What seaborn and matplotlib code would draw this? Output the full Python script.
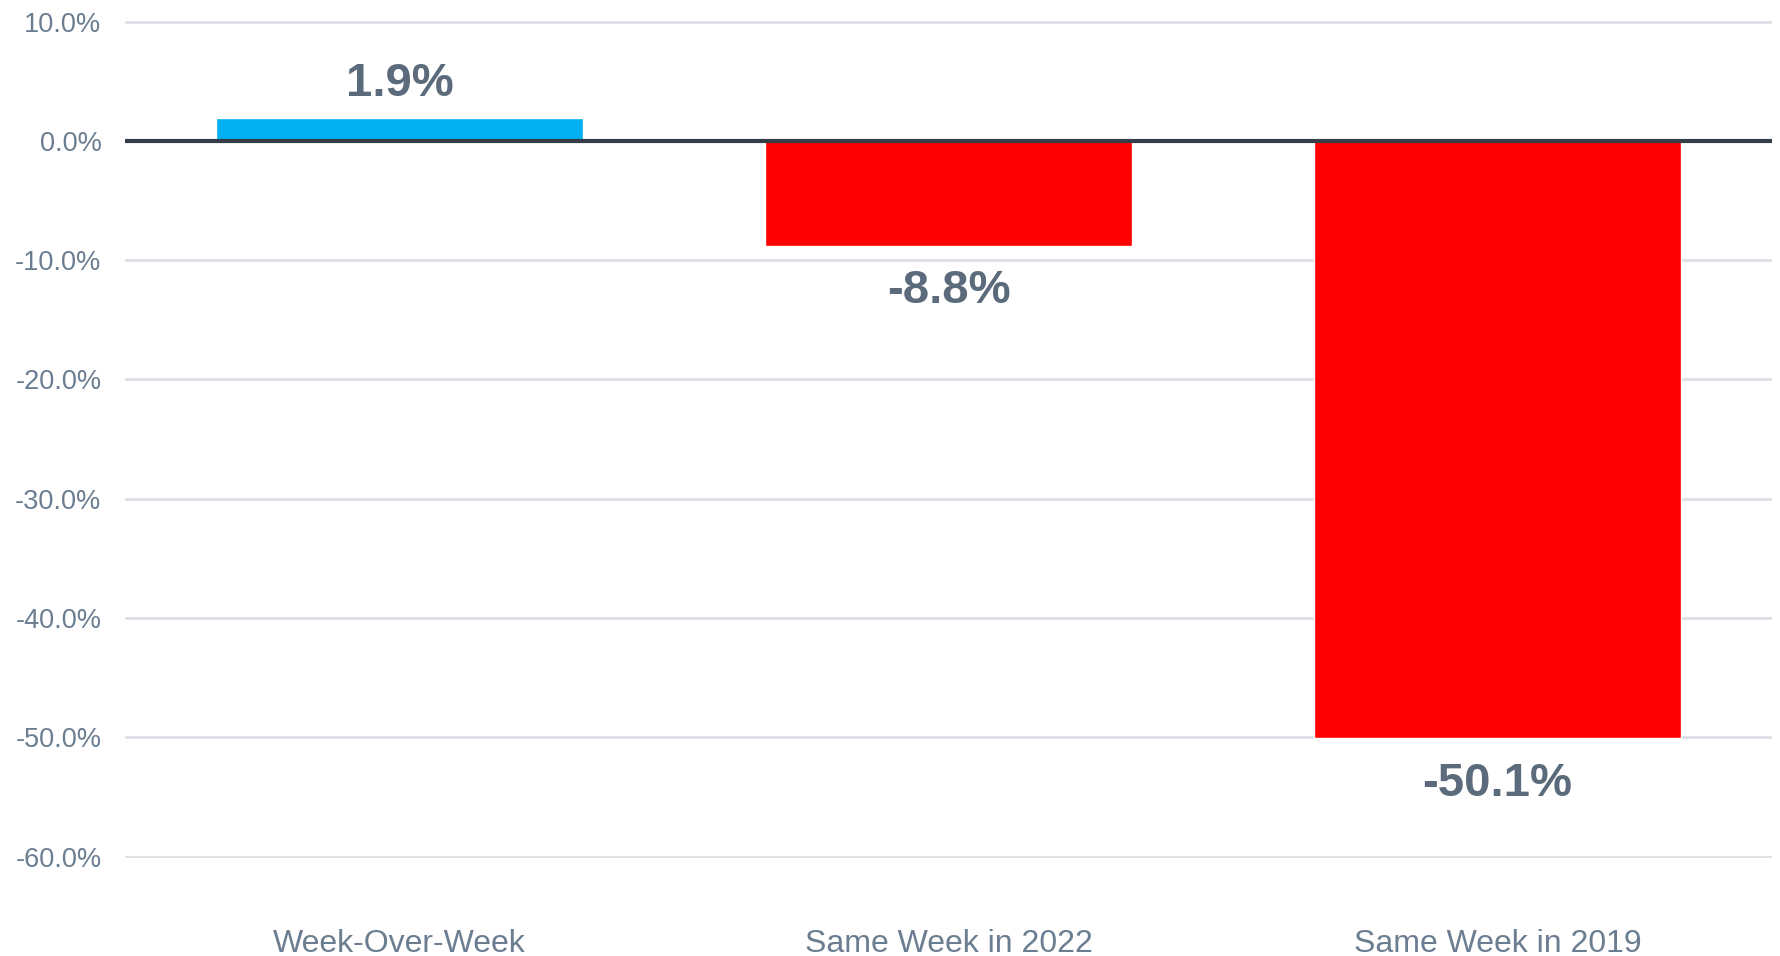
import matplotlib
matplotlib.use("Agg")
import matplotlib.pyplot as plt
from matplotlib.ticker import FuncFormatter, FixedLocator
import seaborn as sns
import pandas as pd

# Data
categories = ["Week-Over-Week", "Same Week in 2022", "Same Week in 2019"]
changes = [1.9, -8.8, -50.1]
y_ticks = [10, 0, -10, -20, -30, -40, -50, -60]

POS_COLOR = "#00B0F0"
NEG_COLOR = "#FF0000"
TICK_COLOR = "#6B7D90"
LABEL_COLOR = "#5B6B7B"

sns.set_theme(style="white")
plt.rcParams["font.family"] = ["Liberation Sans", "DejaVu Sans"]

df = pd.DataFrame({"category": categories, "change": changes})
palette = {c: (POS_COLOR if v >= 0 else NEG_COLOR) for c, v in zip(categories, changes)}

fig = plt.figure(figsize=(17.81, 9.56), dpi=100)
# small margin above/below the outer gridlines so they are not clipped
ax = fig.add_axes([0.0702, 0.1022, 0.9248, 0.8771])

sns.barplot(data=df, x="category", y="change", hue="category", palette=palette,
            order=categories, width=0.667, saturation=1, legend=False, ax=ax)

ax.set_xlim(-0.5, 2.5)
ax.set_ylim(min(y_ticks) - 0.15, max(y_ticks) + 0.15)
ax.yaxis.set_major_locator(FixedLocator(y_ticks))
ax.yaxis.set_major_formatter(FuncFormatter(lambda v, _: f"{v:.1f}%"))

ax.grid(axis="y", color="#DCE0E5", linewidth=2, zorder=0)
ax.set_axisbelow(True)
ax.axhline(0, color="#353E48", linewidth=3, zorder=3)

for s in ax.spines.values():
    s.set_visible(False)

ax.set_xlabel("")
ax.set_ylabel("")
ax.tick_params(axis="y", length=0, pad=17, labelsize=19.5, labelcolor=TICK_COLOR)
ax.tick_params(axis="x", length=0, pad=51, labelsize=23, labelcolor=TICK_COLOR)

for i, v in enumerate(changes):
    offset = 24.5 if v >= 0 else -32.5
    ax.annotate(f"{v:.1f}%", xy=(i, v), xytext=(0, offset), textcoords="offset points",
                ha="center", va="center", fontsize=34, fontweight="bold",
                color=LABEL_COLOR)

fig.savefig("out.png", dpi=100, facecolor="white")
